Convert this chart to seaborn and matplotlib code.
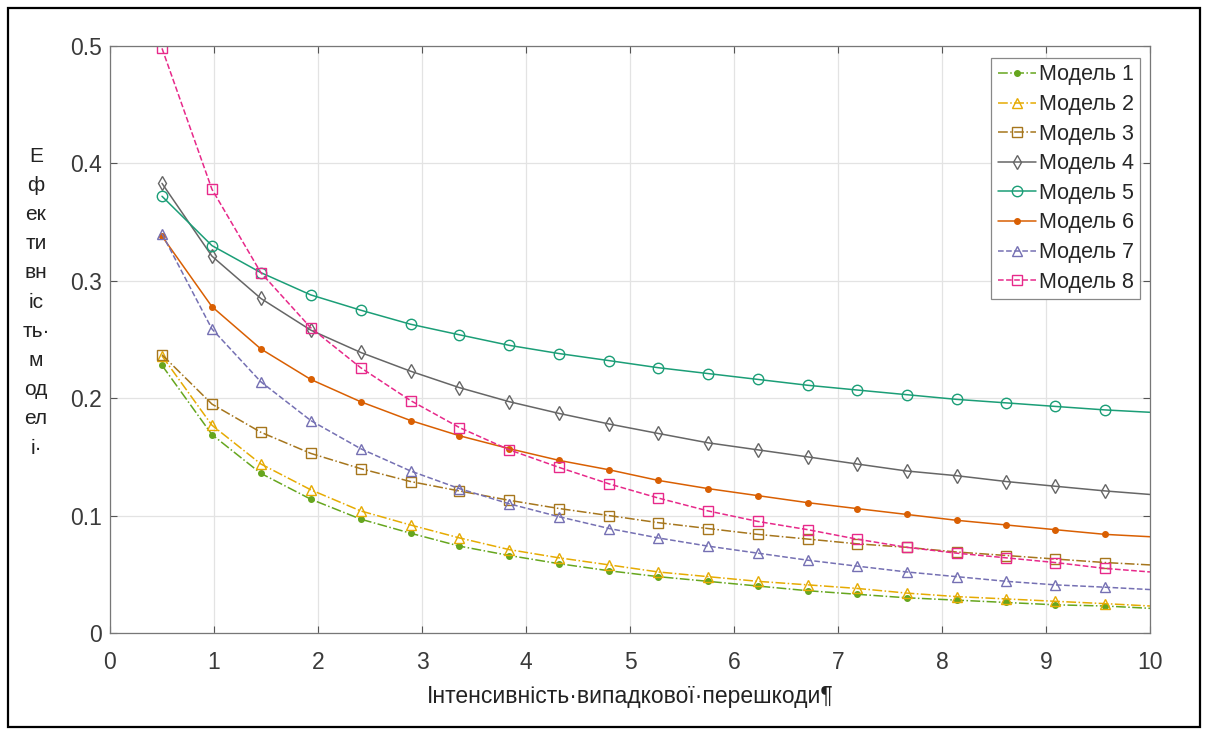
import matplotlib

matplotlib.use("Agg")
import matplotlib.pyplot as plt
import matplotlib.patches as mpatches
import seaborn as sns

# intensity values at the marker positions, plus the right end of the curves
x_vals = [0.50, 0.98, 1.45, 1.93, 2.41, 2.89, 3.36, 3.84, 4.32, 4.80,
          5.27, 5.75, 6.23, 6.71, 7.18, 7.66, 8.14, 8.62, 9.09, 9.57, 10.0]

model_1 = [0.228, 0.169, 0.136, 0.114, 0.097, 0.085, 0.074, 0.066, 0.059, 0.053,
           0.048, 0.044, 0.040, 0.036, 0.033, 0.030, 0.028, 0.026, 0.024, 0.023, 0.021]
model_2 = [0.236, 0.177, 0.144, 0.122, 0.104, 0.092, 0.081, 0.071, 0.064, 0.058,
           0.052, 0.048, 0.044, 0.041, 0.038, 0.034, 0.031, 0.029, 0.027, 0.025, 0.023]
model_3 = [0.237, 0.195, 0.171, 0.153, 0.140, 0.129, 0.121, 0.113, 0.106, 0.100,
           0.094, 0.089, 0.084, 0.080, 0.076, 0.073, 0.069, 0.066, 0.063, 0.060, 0.058]
model_4 = [0.383, 0.321, 0.285, 0.258, 0.239, 0.223, 0.209, 0.197, 0.187, 0.178,
           0.170, 0.162, 0.156, 0.150, 0.144, 0.138, 0.134, 0.129, 0.125, 0.121, 0.118]
model_5 = [0.372, 0.330, 0.307, 0.288, 0.275, 0.263, 0.254, 0.245, 0.238, 0.232,
           0.226, 0.221, 0.216, 0.211, 0.207, 0.203, 0.199, 0.196, 0.193, 0.190, 0.188]
model_6 = [0.338, 0.278, 0.242, 0.216, 0.197, 0.181, 0.168, 0.157, 0.147, 0.139,
           0.130, 0.123, 0.117, 0.111, 0.106, 0.101, 0.096, 0.092, 0.088, 0.084, 0.082]
model_7 = [0.340, 0.259, 0.214, 0.181, 0.157, 0.138, 0.123, 0.110, 0.099, 0.089,
           0.081, 0.074, 0.068, 0.062, 0.057, 0.052, 0.048, 0.044, 0.041, 0.039, 0.037]
model_8 = [0.498, 0.378, 0.307, 0.260, 0.226, 0.198, 0.175, 0.156, 0.141, 0.127,
           0.115, 0.104, 0.095, 0.088, 0.080, 0.073, 0.068, 0.064, 0.060, 0.055, 0.052]

labels = ["Модель 1", "Модель 2", "Модель 3", "Модель 4",
          "Модель 5", "Модель 6", "Модель 7", "Модель 8"]
series = [model_1, model_2, model_3, model_4, model_5, model_6, model_7, model_8]

x_ticks = [0, 1, 2, 3, 4, 5, 6, 7, 8, 9, 10]
y_ticks = [0, 0.1, 0.2, 0.3, 0.4, 0.5]
y_tick_labels = ["0", "0.1", "0.2", "0.3", "0.4", "0.5"]

y_label_lines = ["Е", "ф", "ек", "ти", "вн", "іс", "ть·", "м", "од", "ел", "і·"]
x_label = "Інтенсивність·випадкової·перешкоди¶"

sns.set_theme(style="whitegrid")
plt.rcParams["font.family"] = ["Liberation Sans", "DejaVu Sans"]

dark2 = sns.color_palette("Dark2", 8)
# Dark2 order: teal, orange, purple, pink, green, yellow, brown, gray
colors = [dark2[4], dark2[5], dark2[6], dark2[7], dark2[0], dark2[1], dark2[2], dark2[3]]
styles = ["-.", "-.", "-.", "-", "-", "-", "--", "--"]
markers = [".", "^", "s", "d", "o", ".", "^", "s"]

fig = plt.figure(figsize=(12.09, 7.35), dpi=100)
ax = fig.add_axes([110 / 1209, 102 / 735, 1040 / 1209, 587 / 735])

for values, label, color, ls, mk in zip(series, labels, colors, styles, markers):
    filled = mk == "."
    sns.lineplot(
        x=x_vals, y=values, ax=ax, color=color, linestyle=ls, linewidth=1.1,
        marker=mk, markersize=8 if filled else 7.5,
        markerfacecolor=color if filled else "none",
        markeredgecolor=color, markeredgewidth=1.0,
        markevery=slice(0, len(x_vals) - 1), label=label,
    )

ax.set_xlim(0, 10)
ax.set_ylim(0, 0.5)
ax.set_xticks(x_ticks)
ax.set_yticks(y_ticks)
ax.set_yticklabels(y_tick_labels)
ax.grid(True, color="#e3e3e3", linewidth=0.9)
ax.tick_params(axis="both", which="both", direction="in", length=5, width=0.8,
               color="#555555", labelcolor="#3a3a3a", labelsize=16.5,
               top=True, right=True, bottom=True, left=True)
ax.tick_params(axis="x", pad=13)
ax.tick_params(axis="y", pad=6)
for spine in ax.spines.values():
    spine.set_color("#777777")
    spine.set_linewidth(0.9)
ax.set_xlabel(x_label, fontsize=16.5, color="#222222", labelpad=8)
ax.set_ylabel("")

fig.text(36 / 1209, 1 - 302 / 735, "\n".join(y_label_lines), ha="center", va="center",
         multialignment="center", fontsize=15, linespacing=1.68, color="#222222")

leg = ax.legend(loc="upper right", bbox_to_anchor=(0.9904, 0.9796), fontsize=15.5,
                frameon=True, fancybox=False, handlelength=1.8, handletextpad=0.1,
                labelspacing=0.4, borderpad=0.3, borderaxespad=0.0)
leg.get_frame().set_edgecolor("#888888")
leg.get_frame().set_linewidth(0.9)
leg.get_frame().set_alpha(1.0)

fig.patches.append(mpatches.Rectangle((8 / 1209, 8 / 735), 1192 / 1209, 719 / 735,
                                      transform=fig.transFigure, fill=False,
                                      edgecolor="black", linewidth=1.6))

fig.savefig("out.png", dpi=100)
plt.close(fig)
